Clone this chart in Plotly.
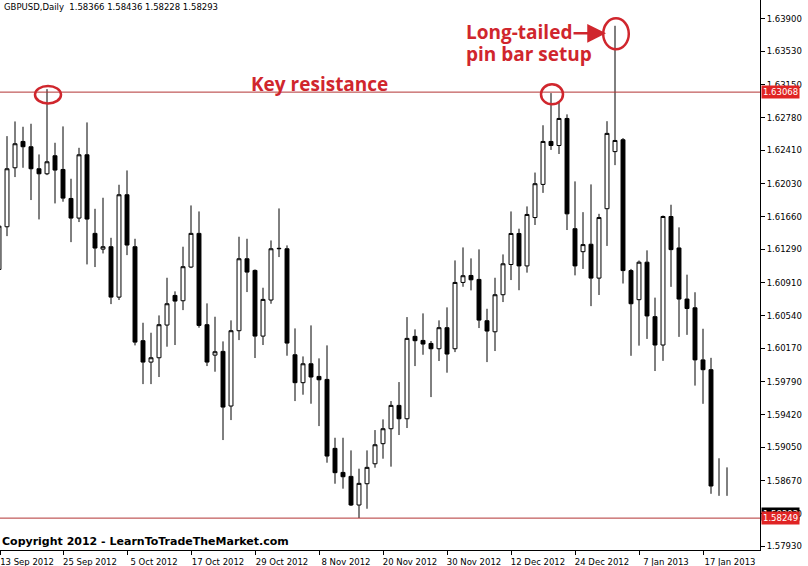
import plotly.graph_objects as go

# ---------------- data ----------------
opens = [1.61062, 1.61545, 1.62212, 1.62510, 1.62450, 1.62201, 1.62144, 1.62348, 1.62193, 1.61865,
         1.61643, 1.62359, 1.61470, 1.61292, 1.61319, 1.60749, 1.61907, 1.61319, 1.60256, 1.60014,
         1.60063, 1.60433, 1.60768, 1.60708, 1.61089, 1.61470, 1.60437, 1.60093, 1.60135, 1.59517,
         1.60369, 1.61183, 1.61051, 1.60308, 1.60716, 1.61296, 1.61296, 1.60097, 1.59781, 1.59995,
         1.59852, 1.59818, 1.59038, 1.58766, 1.58721, 1.58397, 1.58638, 1.58864, 1.59091, 1.59260,
         1.59524, 1.59373, 1.60305, 1.60259, 1.60225, 1.60165, 1.60403, 1.60165, 1.60915, 1.60994,
         1.60949, 1.60482, 1.60357, 1.60776, 1.61118, 1.61469, 1.61102, 1.61649, 1.62024, 1.62510,
         1.62464, 1.62770, 1.61523, 1.61263, 1.61347, 1.60964, 1.61749, 1.62395, 1.62529, 1.61049,
         1.60720, 1.61144, 1.60528, 1.60207, 1.61661, 1.61305, 1.60727, 1.60628, 1.60039, 1.59928,
         None, None]
highs = [1.61590, 1.62570, 1.62736, 1.62676, 1.62710, 1.62363, 1.63102, 1.62495, 1.62680, 1.62088,
         1.62438, 1.62725, 1.61748, 1.61873, 1.61420, 1.62020, 1.62182, 1.61409, 1.60459, 1.60346,
         1.60542, 1.60968, 1.60814, 1.61319, 1.61786, 1.61718, 1.60678, 1.60527, 1.60248, 1.60486,
         1.61432, 1.61409, 1.61062, 1.60855, 1.61390, 1.61752, 1.61334, 1.60395, 1.60078, 1.60429,
         1.60056, 1.60203, 1.59158, 1.59158, 1.59015, 1.58808, 1.59015, 1.59245, 1.59366, 1.59573,
         1.59788, 1.60523, 1.60384, 1.60565, 1.60252, 1.60486, 1.60633, 1.61164, 1.61311, 1.61187,
         1.61289, 1.60617, 1.60968, 1.61232, 1.61718, 1.61523, 1.61775, 1.62158, 1.62693, 1.63057,
         1.62961, 1.62816, 1.62058, 1.61710, 1.62024, 1.61691, 1.62739, 1.63818, 1.62548, 1.61068,
         1.61163, 1.61278, 1.60743, 1.61672, 1.61794, 1.61538, 1.61003, 1.60804, 1.60391, 1.60062,
         1.58926, 1.58823]
lows = [1.61025, 1.61439, 1.62107, 1.62212, 1.61847, 1.61628, 1.62129, 1.61809, 1.61828, 1.61371,
        1.61598, 1.61119, 1.61089, 1.61243, 1.60670, 1.60716, 1.61224, 1.60203, 1.59765, 1.59765,
        1.59845, 1.60188, 1.60207, 1.60602, 1.61077, 1.60403, 1.59969, 1.59905, 1.59132, 1.59358,
        1.60263, 1.60806, 1.60060, 1.60207, 1.60674, 1.61202, 1.60086, 1.59573, 1.59645, 1.59543,
        1.59290, 1.58876, 1.58638, 1.58582, 1.58386, 1.58250, 1.58355, 1.58819, 1.58921, 1.58831,
        1.59189, 1.59268, 1.59969, 1.60097, 1.59618, 1.60026, 1.59894, 1.60127, 1.60866, 1.60825,
        1.60399, 1.60014, 1.60139, 1.60693, 1.60942, 1.60827, 1.61026, 1.61565, 1.61928, 1.62414,
        1.62368, 1.61508, 1.60995, 1.61068, 1.60647, 1.60773, 1.61328, 1.62242, 1.60903, 1.60085,
        1.60200, 1.60276, 1.59913, 1.60028, 1.60865, 1.60299, 1.60322, 1.59748, 1.59542, 1.58524,
        1.58501, 1.58501]
closes = [1.61552, 1.62201, 1.62484, 1.62450, 1.62201, 1.62144, 1.62280, 1.62186, 1.61869, 1.61643,
          1.62359, 1.61632, 1.61304, 1.61319, 1.60749, 1.61907, 1.61338, 1.60240, 1.60014, 1.60063,
          1.60437, 1.60674, 1.60704, 1.61093, 1.61470, 1.60429, 1.60014, 1.60131, 1.59505, 1.60369,
          1.61183, 1.61032, 1.60308, 1.60723, 1.61296, 1.61300, 1.60229, 1.59781, 1.59995, 1.59845,
          1.59814, 1.58951, 1.58763, 1.58717, 1.58397, 1.58642, 1.58823, 1.59079, 1.59260, 1.59524,
          1.59373, 1.60282, 1.60256, 1.60218, 1.60165, 1.60403, 1.60105, 1.60915, 1.60991, 1.60945,
          1.60489, 1.60365, 1.60776, 1.61126, 1.61469, 1.61102, 1.61684, 1.62032, 1.62510, 1.62464,
          1.62770, 1.61691, 1.61102, 1.61343, 1.60964, 1.61649, 1.62601, 1.62521, 1.61049, 1.60674,
          1.61144, 1.60536, 1.60207, 1.61661, 1.61286, 1.60727, 1.60620, 1.60039, 1.59928, 1.58612,
          None, None]

date_labels = ["13 Sep 2012", "25 Sep 2012", "5 Oct 2012", "17 Oct 2012", "29 Oct 2012",
               "8 Nov 2012", "20 Nov 2012", "30 Nov 2012", "12 Dec 2012", "24 Dec 2012",
               "7 Jan 2013", "17 Jan 2013"]
date_tick_bars = [0, 8, 16, 24, 32, 40, 48, 56, 64, 72, 80, 88]

price_ticks = [1.63900, 1.63530, 1.63150, 1.62780, 1.62410, 1.62030, 1.61660, 1.61290, 1.60910,
               1.60540, 1.60170, 1.59790, 1.59420, 1.59050, 1.58670, 1.58300, 1.57930]

resistance_level = 1.63068
support_level = 1.58249
current_price = 1.58293
header_text = "GBPUSD,Daily\u00a0\u00a01.58366 1.58436 1.58228 1.58293"

# ---------------- figure ----------------
X_RANGE = [0.125, 95.125]
bars = list(range(len(highs)))
cb = [i for i in bars if opens[i] is not None]
wb = [i for i in bars if opens[i] is None]
# the first tick sits just left of the visible area; keep it on the edge so its label shows
tick_pos = [max(b, X_RANGE[0] + 0.01) for b in date_tick_bars]

RED = "#d0262d"
LINE_RED = "#b23434"
AX_FONT = dict(family="DejaVu Sans", size=8.5, color="black")

fig = go.Figure()
fig.add_trace(go.Candlestick(
    x=cb,
    open=[opens[i] for i in cb], high=[highs[i] for i in cb],
    low=[lows[i] for i in cb], close=[closes[i] for i in cb],
    increasing=dict(fillcolor="white", line=dict(color="black", width=1)),
    decreasing=dict(fillcolor="black", line=dict(color="black", width=1)),
    whiskerwidth=0, hoverinfo="skip", showlegend=False,
))
# bars drawn only as a high-low line
wx, wy = [], []
for i in wb:
    wx += [i, i, None]
    wy += [lows[i], highs[i], None]
fig.add_trace(go.Scatter(x=wx, y=wy, mode="lines", line=dict(color="black", width=1),
                         hoverinfo="skip", showlegend=False))

shapes = [
    dict(type="line", xref="paper", x0=0, x1=1, yref="y", y0=resistance_level, y1=resistance_level,
         line=dict(color=LINE_RED, width=1)),
    dict(type="line", xref="paper", x0=0, x1=1, yref="y", y0=support_level, y1=support_level,
         line=dict(color=LINE_RED, width=1)),
]
for bar, dx0, dx1, dy0, dy1 in [(6, -12, 14, -14.3, 3.1), (69, -10, 12, -11.2, 8.8),
                                (77, -11.8, 13.8, -23.5, 7.5)]:
    shapes.append(dict(type="circle", xref="x", yref="y", xsizemode="pixel", ysizemode="pixel",
                       xanchor=bar, yanchor=highs[bar], x0=dx0, x1=dx1, y0=dy0, y1=dy1,
                       line=dict(color=RED, width=2.5), layer="above"))

W, H = 760.0, 550.0
TXT = dict(family="Open Sans", size=19, color=RED, weight="bold")
annotations = [
    dict(text=header_text, xref="paper", yref="paper", x=0, y=1, xanchor="left", yanchor="top",
         xshift=2, yshift=0, showarrow=False, font=dict(family="DejaVu Sans", size=8.5, color="black")),
    dict(text="Copyright 2012 - LearnToTradeTheMarket.com", xref="paper", yref="paper", x=0, y=0,
         xanchor="left", yanchor="bottom", xshift=0, yshift=0, showarrow=False,
         font=dict(family="DejaVu Sans", size=11, color="black", weight="bold")),
    dict(text="Key resistance", xref="paper", yref="paper", x=319 / W, y=1 - 84 / H,
         xanchor="center", yanchor="middle", showarrow=False, font=TXT),
    dict(text="Long-tailed", xref="paper", yref="paper", x=464 / W, y=1 - 32 / H,
         xanchor="left", yanchor="middle", showarrow=False, font=TXT),
    dict(text="pin bar setup", xref="paper", yref="paper", x=464 / W, y=1 - 54 / H,
         xanchor="left", yanchor="middle", showarrow=False, font=TXT),
    dict(text="", xref="paper", yref="paper", x=606 / W, y=1 - 33.3 / H, ax=-34, ay=0,
         showarrow=True, arrowhead=2, arrowsize=1.5, arrowwidth=2.5, arrowcolor=RED, standoff=0),
    dict(text="1.58293", xref="paper", yref="y", x=1, y=current_price, xanchor="left",
         yanchor="middle", xshift=1, showarrow=False, bgcolor="black", borderpad=1,
         font=dict(family="DejaVu Sans", size=8.5, color="white")),
    dict(text=f"{support_level:.5f}", xref="paper", yref="y", x=1, y=support_level, xanchor="left",
         yanchor="middle", xshift=1, showarrow=False, bgcolor="#e02424", borderpad=1,
         font=dict(family="DejaVu Sans", size=8.5, color="white")),
    dict(text=f"{resistance_level:.5f}", xref="paper", yref="y", x=1, y=resistance_level,
         xanchor="left", yanchor="middle", xshift=1, showarrow=False, bgcolor="#e02424",
         borderpad=1, font=dict(family="DejaVu Sans", size=8.5, color="white")),
]

fig.update_layout(
    width=808, height=566,
    margin=dict(l=0, r=48, t=0, b=16),
    paper_bgcolor="white", plot_bgcolor="white",
    showlegend=False,
    shapes=shapes, annotations=annotations,
    xaxis=dict(range=X_RANGE, rangeslider=dict(visible=False), showgrid=False,
               zeroline=False, showline=True, linecolor="black", linewidth=1,
               tickmode="array", tickvals=tick_pos, ticktext=date_labels,
               ticks="outside", ticklen=4, tickcolor="black", tickfont=AX_FONT,
               ticklabelshift=27, ticklabelstandoff=0),
    yaxis=dict(range=[1.578883, 1.64110], side="right", showgrid=False, zeroline=False,
               showline=True, linecolor="black", linewidth=1,
               tickmode="array", tickvals=price_ticks, tickformat=".5f",
               ticks="outside", ticklen=4, tickcolor="black", tickfont=AX_FONT),
)

fig.write_html("out.html", config={"displayModeBar": False},
               post_script="document.body.style.margin='0';document.body.style.overflow='hidden';")
